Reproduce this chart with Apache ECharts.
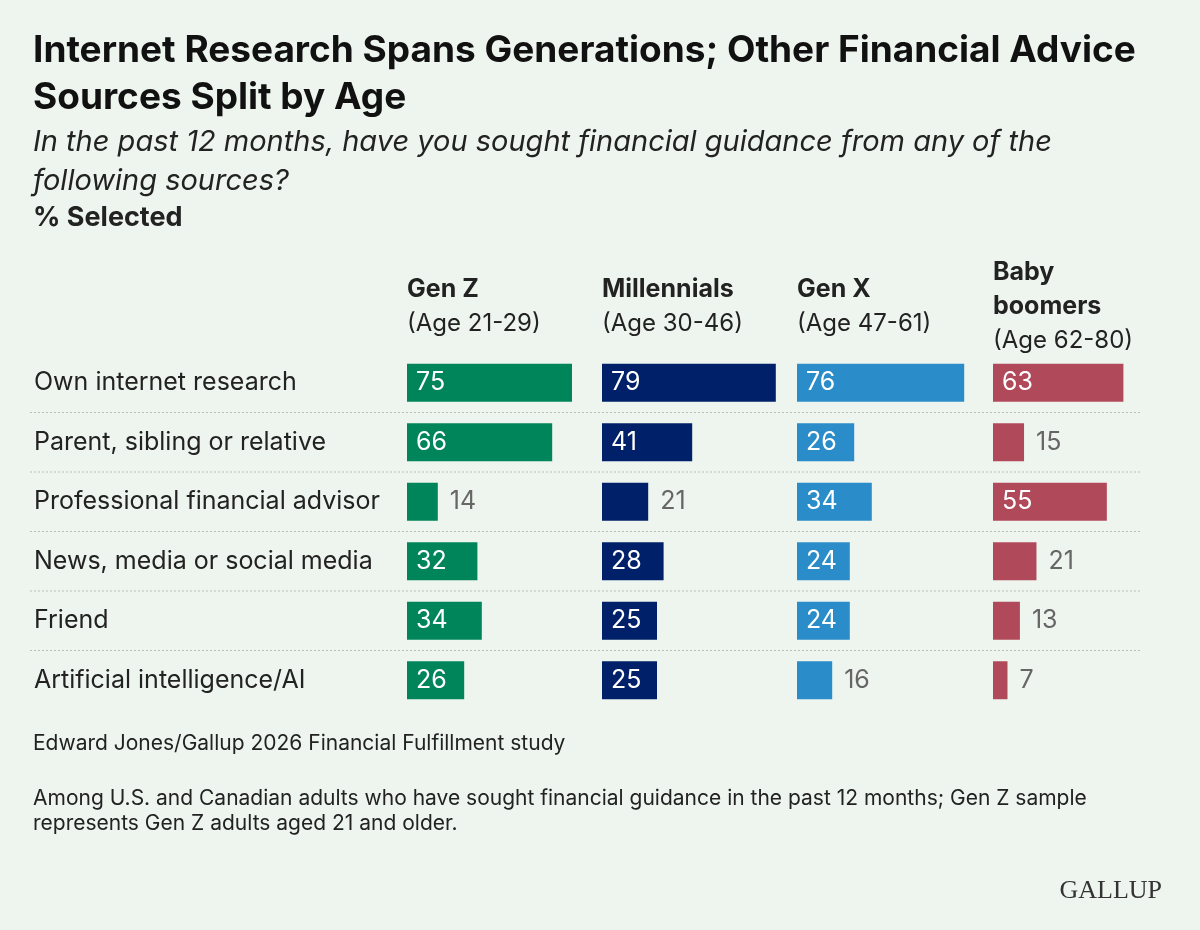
<!DOCTYPE html><html><head><meta charset="utf-8">
<script src="https://cdn.jsdelivr.net/npm/echarts@6/dist/echarts.min.js"></script>
<style>html,body{margin:0;background:#eef5ef}#c{width:1200px;height:930px}</style></head><body><div id="c"></div>
<script>
const categories=["Own internet research","Parent, sibling or relative","Professional financial advisor","News, media or social media","Friend","Artificial intelligence/AI"];
const genZ=[75,66,14,32,34,26];
const millennials=[79,41,21,28,25,25];
const genX=[76,26,34,24,24,16];
const boomers=[63,15,55,21,13,7];
const groupHeaders=[["Gen Z","(Age 21-29)"],["Millennials","(Age 30-46)"],["Gen X","(Age 47-61)"],["Baby\nboomers","(Age 62-80)"]];
const seriesData=[genZ,millennials,genX,boomers];
const colors=["#00855a","#002169","#2a8cc8","#b04a5a"];
const lefts=[407,602,797,993];
const TOP=353,H=357,F="Inter, 'Noto Sans', sans-serif";
const chart=echarts.init(document.getElementById('c'));
const grids=[],xA=[],yA=[],series=[];
lefts.forEach((l,i)=>{
 grids.push({left:l,top:TOP,width:220,height:H});
 xA.push({gridIndex:i,type:'value',min:0,max:100,show:false});
 yA.push({gridIndex:i,type:'category',data:categories,inverse:true,show:i===0,
  axisLine:{show:false},axisTick:{show:false},
  axisLabel:{show:i===0,align:'left',margin:373,fontSize:25,color:'#222',fontFamily:F}});
 series.push({type:'bar',xAxisIndex:i,yAxisIndex:i,barWidth:38,silent:true,
  data:seriesData[i].map(v=>({value:v,label:v>=24?{position:'insideLeft',color:'#fff',distance:9}:{position:'right',color:'#666',distance:12}})),
  itemStyle:{color:colors[i]},label:{show:true,fontSize:25,fontFamily:F}});
});
const g=[
 {type:'text',left:33,top:27,style:{text:'Internet Research Spans Generations; Other Financial Advice\nSources Split by Age',font:`bold 37px ${F}`,fill:'#111',lineHeight:47}},
 {type:'text',left:33,top:123,style:{text:'In the past 12 months, have you sought financial guidance from any of the\nfollowing sources?',font:`italic 29px ${F}`,fill:'#222',lineHeight:39}},
 {type:'text',left:33,top:204,style:{text:'% Selected',font:`bold 27px ${F}`,fill:'#222'}},
 {type:'text',left:33,top:733,style:{text:'Edward Jones/Gallup 2026 Financial Fulfillment study',font:`21px ${F}`,fill:'#222'}},
 {type:'text',left:33,top:786,style:{text:'Among U.S. and Canadian adults who have sought financial guidance in the past 12 months; Gen Z sample\nrepresents Gen Z adults aged 21 and older.',font:`21px ${F}`,fill:'#222',lineHeight:25}},
 {type:'text',right:38,top:878,style:{text:'GALLUP',font:`26px 'Liberation Serif', serif`,fill:'#333'}}
];
groupHeaders.forEach((h,i)=>{
 const n=h[0].split('\n').length;
 const base=312+(n-1)*17;
 g.push({type:'text',left:lefts[i],top:base-34*n-6,style:{text:h[0],font:`bold 25px ${F}`,fill:'#222',lineHeight:34}});
 g.push({type:'text',left:lefts[i],top:base,style:{text:h[1],font:`24px ${F}`,fill:'#222'}});
});
for(let k=1;k<categories.length;k++){
 const y=TOP+H*k/categories.length;
 g.push({type:'line',shape:{x1:30,y1:y,x2:1140,y2:y},style:{stroke:'#bbb',lineWidth:1,lineDash:[2,2]}});
}
chart.setOption({backgroundColor:'#eef5ef',grid:grids,xAxis:xA,yAxis:yA,series,graphic:g,animation:false});
</script></body></html>
